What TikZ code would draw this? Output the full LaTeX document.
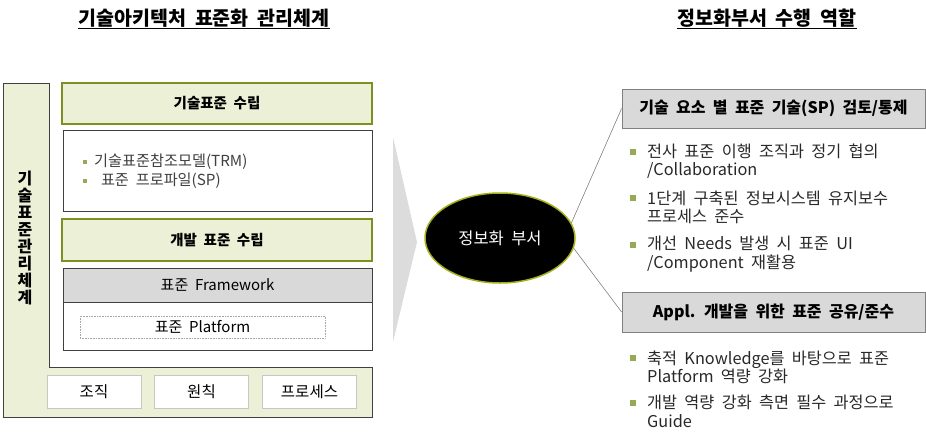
\documentclass[tikz,border=0pt]{standalone}
\usepackage{fontspec}
\setmainfont[WordSpace=2.0]{Noto Sans CJK KR}
\usetikzlibrary{shapes.geometric}

\definecolor{olivebd}{RGB}{128,142,34}
\definecolor{palegreen}{RGB}{235,240,214}
\definecolor{boxgray}{RGB}{217,217,217}
\definecolor{bulletgreen}{RGB}{150,170,85}
\definecolor{framegray}{RGB}{64,64,64}
\definecolor{textgray}{RGB}{40,40,40}
\definecolor{chevgray}{RGB}{220,220,220}

\begin{document}
\begin{tikzpicture}[x=1pt, y=-1pt,
	headline/.style={font=\bfseries\fontsize{19.5}{21}\selectfont, inner sep=0pt},
	greenbox/.style={draw=olivebd, line width=1.6pt, fill=palegreen, minimum width=310, inner sep=0pt, font=\bfseries\fontsize{14.5}{16}\selectfont},
	whitebox/.style={draw=framegray, line width=0.8pt, fill=white, minimum width=309, inner sep=0pt},
	unitbox/.style={draw=gray!45, line width=0.6pt, fill=white, minimum width=94, minimum height=33, inner sep=0pt, font=\fontsize{15.5}{17}\selectfont},
	rolebox/.style={draw=gray, line width=0.8pt, fill=boxgray, minimum width=303, inner sep=0pt, font=\bfseries\fontsize{16}{18}\selectfont},
	item/.style={anchor=west, align=left, inner sep=0pt, text=textgray, font=\fontsize{16.3}{18.5}\selectfont},
	bullet/.style={fill=bulletgreen, minimum size=5.5, inner sep=0pt}
	]
	\useasboundingbox (0,0) rectangle (926,434);
	
	%titles
	\node[headline] (ltitle) at (204,19){\underline{기술아키텍처 표준화 관리체계}};
	\node[headline] (rtitle) at (767,19){\underline{정보화부서 수행 역할}};
	
	%L-shaped frame
	\draw[framegray, line width=0.8pt, fill=palegreen] (3,83) -- (49,83) -- (49,367) -- (372,367) -- (372,417) -- (3,417) -- cycle;
	\node[align=center, inner sep=0pt, font=\bfseries\fontsize{16}{17}\selectfont] (vlabel) at (25,238){기\\술\\표\\준\\관\\리\\체\\계};
	
	%standard boxes
	\node[greenbox, minimum height=41] (techplan) at (217,103.5){기술표준 수립};
	\node[whitebox, minimum height=81] (techlist) at (217.5,170.5){};
	\node[item, text=framegray, font=\fontsize{15.2}{19}\selectfont] (techitems) at (94,171.5){기술표준참조모델(TRM)\\\ 표준 프로파일(SP)};
	\node[bullet, minimum size=4.5] (tb1) at (85,162){};
	\node[bullet, minimum size=4.5] (tb2) at (85,181){};
	\node[greenbox, minimum height=42] (devplan) at (217,240){개발 표준 수립};
	
	\node[whitebox, minimum height=82] (devframe) at (217.5,309){};
	\node[draw=framegray, line width=0.8pt, fill=boxgray, minimum width=309, minimum height=34, inner sep=0pt, font=\fontsize{15}{16}\selectfont] (framework) at (217.5,285){표준 Framework};
	\node[draw=gray!70, densely dotted, line width=0.6pt, minimum width=245, minimum height=22, inner sep=0pt, font=\fontsize{15}{16}\selectfont] (platform) at (202.5,327){표준 Platform};
	
	\foreach \name/\x/\txt in {org/94/조직, rule/201.5/원칙, proc/309.5/프로세스}{
		\node[unitbox] (\name) at (\x,391.5){\txt};
	}
	
	%chevron
	\fill[chevgray] (393,137) -- (417,242) -- (393,342) -- cycle;
	
	%department
	\node[ellipse, fill=black, draw=olivebd!70!yellow, line width=1.5pt, minimum width=150, minimum height=90, text=white, font=\fontsize{16.5}{18}\selectfont] (dept) at (500,238){정보화 부서};
	
	%roles
	\node[rolebox, minimum height=39] (role1) at (773.5,108.5){기술 요소 별 표준 기술(SP) 검토/통제};
	\node[rolebox, minimum height=40] (role2) at (773.5,312){Appl. 개발을 위한 표준 공유/준수};
	\draw[gray, line width=0.6pt] (dept.12) -- (role1.west);
	\draw[gray, line width=0.6pt] (dept.-8) -- (role2.west);
	
	\node[item] (r1) at (647,161){전사 표준 이행 조직과 정기 협의\\/Collaboration};
	\node[item] (r2) at (647,207.5){1단계 구축된 정보시스템 유지보수\\프로세스 준수};
	\node[item] (r3) at (647,254){개선 Needs 발생 시 표준 UI\\/Component 재활용};
	\node[item] (r4) at (647,367.5){축적 Knowledge를 바탕으로 표준\\Platform 역량 강화};
	\node[item] (r5) at (647,411.5){개발 역량 강화 측면 필수 과정으로\\Guide};
	\foreach \y in {152,198,245,358,403}{
		\node[bullet] at (633,\y){};
	}
\end{tikzpicture}
\end{document}
